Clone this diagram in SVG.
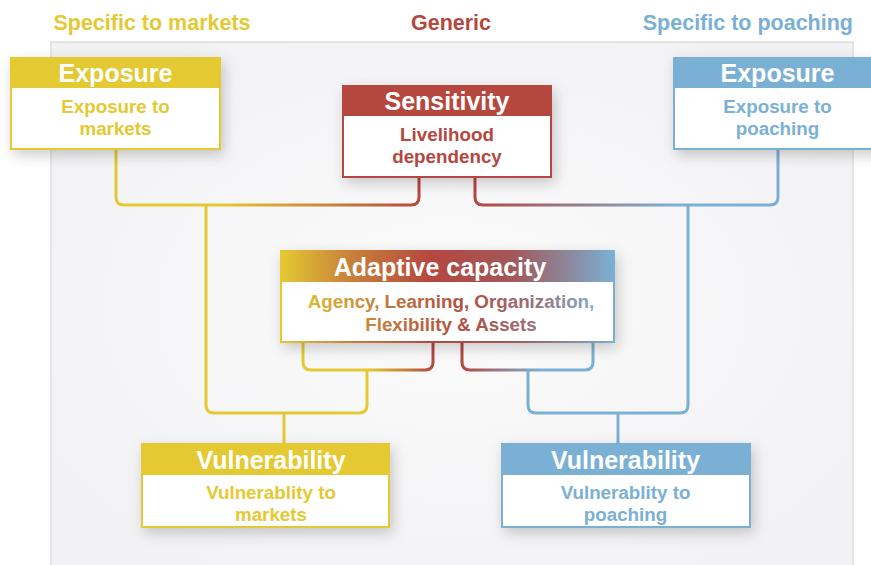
<svg xmlns="http://www.w3.org/2000/svg" width="871" height="565" viewBox="0 0 871 565">
<defs>
<filter id="sh" x="-20%" y="-30%" width="140%" height="170%">
<feDropShadow dx="3" dy="5" stdDeviation="7" flood-color="#000" flood-opacity="0.2"/>
</filter>
<radialGradient id="gBg" cx="0.5" cy="0.5" r="0.6">
<stop offset="0" stop-color="#FBFBFC"/><stop offset="1" stop-color="#F2F2F4"/></radialGradient>
<linearGradient id="gYR1" gradientUnits="userSpaceOnUse" x1="116" y1="0" x2="419" y2="0">
<stop offset="0.35" stop-color="#E4C932"/><stop offset="1" stop-color="#B5473F"/></linearGradient>
<linearGradient id="gRB1" gradientUnits="userSpaceOnUse" x1="475" y1="0" x2="778" y2="0">
<stop offset="0" stop-color="#B5473F"/><stop offset="0.65" stop-color="#7AB0D4"/></linearGradient>
<linearGradient id="gYR2" gradientUnits="userSpaceOnUse" x1="303" y1="0" x2="433" y2="0">
<stop offset="0.5" stop-color="#E4C932"/><stop offset="1" stop-color="#B5473F"/></linearGradient>
<linearGradient id="gRB2" gradientUnits="userSpaceOnUse" x1="462" y1="0" x2="593" y2="0">
<stop offset="0" stop-color="#B5473F"/><stop offset="0.6" stop-color="#7AB0D4"/></linearGradient>
<linearGradient id="gAC" gradientUnits="userSpaceOnUse" x1="281" y1="0" x2="614" y2="0">
<stop offset="0" stop-color="#E4C932"/><stop offset="0.2" stop-color="#C9833A"/><stop offset="0.45" stop-color="#B5473F"/><stop offset="0.7" stop-color="#A2585A"/><stop offset="1" stop-color="#7AB0D4"/></linearGradient>
<linearGradient id="gACt" gradientUnits="userSpaceOnUse" x1="305" y1="0" x2="598" y2="0">
<stop offset="0" stop-color="#DDBE34"/><stop offset="0.3" stop-color="#BF7440"/><stop offset="0.55" stop-color="#B24E40"/><stop offset="0.8" stop-color="#98737E"/><stop offset="1" stop-color="#7AB0D4"/></linearGradient>
</defs>
<style>
text{font-family:"Liberation Sans",Arial,sans-serif;font-weight:bold;text-anchor:middle}
.hd{font-size:25px;fill:#fff}
.bd{font-size:18.8px}
.top{font-size:21.5px}
.con{fill:none;stroke-width:3;stroke-linejoin:round}
.box{fill:#fff;stroke-width:2}
</style>
<rect x="0" y="0" width="871" height="565" fill="#fff"/>
<rect x="51" y="42" width="802" height="530" fill="url(#gBg)" stroke="#DEDEDF" stroke-width="1.5"/>
<text class="top" x="152" y="30" fill="#E4C932">Specific to markets</text>
<text class="top" x="451" y="30" fill="#B5473F">Generic</text>
<text class="top" x="853" y="30" fill="#7AB0D4" style="text-anchor:end">Specific to poaching</text>
<g id="connectors">
<path class="con" stroke="url(#gYR1)" d="M116,149 V197 Q116,205 124,205 H411 Q419,205 419,197 V177"/>
<path class="con" stroke="url(#gRB1)" d="M475,177 V197 Q475,205 483,205 H770 Q778,205 778,197 V149"/>
<path class="con" stroke="url(#gYR2)" d="M303,342 V362 Q303,370 311,370 H425 Q433,370 433,362 V342"/>
<path class="con" stroke="url(#gRB2)" d="M462,342 V362 Q462,370 470,370 H585 Q593,370 593,362 V342"/>
<path class="con" stroke="#E4C932" d="M206,205 V405 Q206,413 214,413 H359 Q367,413 367,405 V370"/>
<path class="con" stroke="#E4C932" d="M284,413 V444"/>
<path class="con" stroke="#7AB0D4" d="M688,205 V405 Q688,413 680,413 H536 Q528,413 528,405 V370"/>
<path class="con" stroke="#7AB0D4" d="M618,413 V444"/>
</g>
<g id="exposure-markets">
<rect class="box" x="11" y="58" width="209" height="91" stroke="#E4C932" filter="url(#sh)"/>
<rect x="11" y="58" width="209" height="30" fill="#E4C932"/>
<text class="hd" x="115.5" y="82">Exposure</text>
<text class="bd" x="115.5" y="113" fill="#E4C932">Exposure to</text>
<text class="bd" x="115.5" y="135" fill="#E4C932">markets</text>
</g>
<g id="sensitivity">
<rect class="box" x="343" y="86" width="208" height="91" stroke="#B5473F" filter="url(#sh)"/>
<rect x="343" y="86" width="208" height="30" fill="#B5473F"/>
<text class="hd" x="447" y="110">Sensitivity</text>
<text class="bd" x="447" y="141" fill="#B5473F">Livelihood</text>
<text class="bd" x="447" y="163" fill="#B5473F">dependency</text>
</g>
<g id="exposure-poaching">
<rect class="box" x="674" y="58" width="210" height="91" stroke="#7AB0D4" filter="url(#sh)"/>
<rect x="674" y="58" width="210" height="30" fill="#7AB0D4"/>
<text class="hd" x="777.5" y="82">Exposure</text>
<text class="bd" x="777.5" y="113" fill="#7AB0D4">Exposure to</text>
<text class="bd" x="777.5" y="135" fill="#7AB0D4">poaching</text>
</g>
<g id="adaptive-capacity">
<rect class="box" x="281" y="251" width="333" height="91" stroke="url(#gAC)" filter="url(#sh)"/>
<rect x="281" y="251" width="333" height="31" fill="url(#gAC)"/>
<text class="hd" x="440" y="276">Adaptive capacity</text>
<text class="bd" x="451" y="308" fill="url(#gACt)">Agency, Learning, Organization,</text>
<text class="bd" x="451" y="331" fill="url(#gACt)">Flexibility &amp; Assets</text>
</g>
<g id="vulnerability-markets">
<rect class="box" x="142" y="444" width="247" height="83" stroke="#E4C932" filter="url(#sh)"/>
<rect x="142" y="444" width="247" height="31" fill="#E4C932"/>
<text class="hd" x="271" y="469">Vulnerability</text>
<text class="bd" x="271" y="499" fill="#E4C932">Vulnerablity to</text>
<text class="bd" x="271" y="521" fill="#E4C932">markets</text>
</g>
<g id="vulnerability-poaching">
<rect class="box" x="502" y="444" width="248" height="83" stroke="#7AB0D4" filter="url(#sh)"/>
<rect x="502" y="444" width="248" height="31" fill="#7AB0D4"/>
<text class="hd" x="625.5" y="469">Vulnerability</text>
<text class="bd" x="625.5" y="499" fill="#7AB0D4">Vulnerablity to</text>
<text class="bd" x="625.5" y="521" fill="#7AB0D4">poaching</text>
</g>
</svg>
